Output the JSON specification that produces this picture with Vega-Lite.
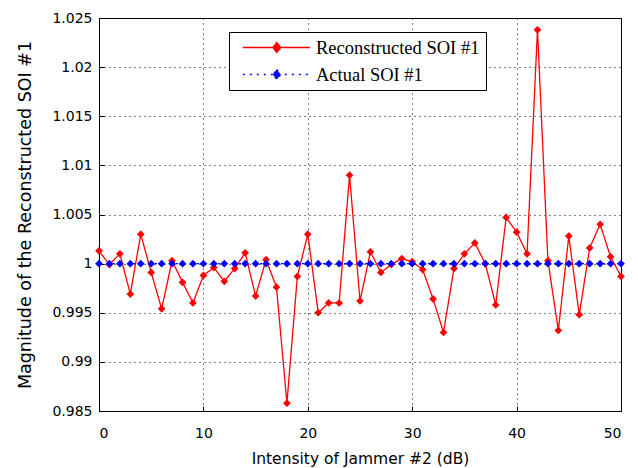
{
  "$schema": "https://vega.github.io/schema/vega-lite/v6.json",
  "width": 522,
  "height": 393,
  "autosize": {"type": "none"},
  "padding": {"left": 99, "top": 18, "right": 17, "bottom": 57},
  "background": "white",
  "config": {
    "view": {"stroke": "black", "strokeWidth": 1},
    "axis": {
      "labelFont": "DejaVu Sans",
      "labelFontSize": 14,
      "labelColor": "black",
      "titleFont": "DejaVu Sans",
      "titleFontSize": 16,
      "titleFontWeight": "normal",
      "titleColor": "black",
      "domainColor": "black",
      "tickColor": "black",
      "gridColor": "black",
      "gridDash": [1, 4],
      "gridOpacity": 1,
      "gridWidth": 1
    }
  },
  "data": {
    "values": [
      {"x": 0, "y": 1.0013, "s": "Reconstructed SOI #1"},
      {"x": 1, "y": 0.9999, "s": "Reconstructed SOI #1"},
      {"x": 2, "y": 1.001, "s": "Reconstructed SOI #1"},
      {"x": 3, "y": 0.9969, "s": "Reconstructed SOI #1"},
      {"x": 4, "y": 1.003, "s": "Reconstructed SOI #1"},
      {"x": 5, "y": 0.9991, "s": "Reconstructed SOI #1"},
      {"x": 6, "y": 0.9954, "s": "Reconstructed SOI #1"},
      {"x": 7, "y": 1.0003, "s": "Reconstructed SOI #1"},
      {"x": 8, "y": 0.9981, "s": "Reconstructed SOI #1"},
      {"x": 9, "y": 0.996, "s": "Reconstructed SOI #1"},
      {"x": 10, "y": 0.9988, "s": "Reconstructed SOI #1"},
      {"x": 11, "y": 0.9996, "s": "Reconstructed SOI #1"},
      {"x": 12, "y": 0.9982, "s": "Reconstructed SOI #1"},
      {"x": 13, "y": 0.9995, "s": "Reconstructed SOI #1"},
      {"x": 14, "y": 1.0011, "s": "Reconstructed SOI #1"},
      {"x": 15, "y": 0.9967, "s": "Reconstructed SOI #1"},
      {"x": 16, "y": 1.0004, "s": "Reconstructed SOI #1"},
      {"x": 17, "y": 0.9976, "s": "Reconstructed SOI #1"},
      {"x": 18, "y": 0.9858, "s": "Reconstructed SOI #1"},
      {"x": 19, "y": 0.9987, "s": "Reconstructed SOI #1"},
      {"x": 20, "y": 1.003, "s": "Reconstructed SOI #1"},
      {"x": 21, "y": 0.995, "s": "Reconstructed SOI #1"},
      {"x": 22, "y": 0.996, "s": "Reconstructed SOI #1"},
      {"x": 23, "y": 0.996, "s": "Reconstructed SOI #1"},
      {"x": 24, "y": 1.009, "s": "Reconstructed SOI #1"},
      {"x": 25, "y": 0.9962, "s": "Reconstructed SOI #1"},
      {"x": 26, "y": 1.0012, "s": "Reconstructed SOI #1"},
      {"x": 27, "y": 0.9991, "s": "Reconstructed SOI #1"},
      {"x": 28, "y": 0.9999, "s": "Reconstructed SOI #1"},
      {"x": 29, "y": 1.0005, "s": "Reconstructed SOI #1"},
      {"x": 30, "y": 1.0002, "s": "Reconstructed SOI #1"},
      {"x": 31, "y": 0.9994, "s": "Reconstructed SOI #1"},
      {"x": 32, "y": 0.9964, "s": "Reconstructed SOI #1"},
      {"x": 33, "y": 0.993, "s": "Reconstructed SOI #1"},
      {"x": 34, "y": 0.9995, "s": "Reconstructed SOI #1"},
      {"x": 35, "y": 1.001, "s": "Reconstructed SOI #1"},
      {"x": 36, "y": 1.0021, "s": "Reconstructed SOI #1"},
      {"x": 37, "y": 1.0, "s": "Reconstructed SOI #1"},
      {"x": 38, "y": 0.9958, "s": "Reconstructed SOI #1"},
      {"x": 39, "y": 1.0047, "s": "Reconstructed SOI #1"},
      {"x": 40, "y": 1.0032, "s": "Reconstructed SOI #1"},
      {"x": 41, "y": 1.001, "s": "Reconstructed SOI #1"},
      {"x": 42, "y": 1.0238, "s": "Reconstructed SOI #1"},
      {"x": 43, "y": 1.0003, "s": "Reconstructed SOI #1"},
      {"x": 44, "y": 0.9932, "s": "Reconstructed SOI #1"},
      {"x": 45, "y": 1.0028, "s": "Reconstructed SOI #1"},
      {"x": 46, "y": 0.9948, "s": "Reconstructed SOI #1"},
      {"x": 47, "y": 1.0016, "s": "Reconstructed SOI #1"},
      {"x": 48, "y": 1.004, "s": "Reconstructed SOI #1"},
      {"x": 49, "y": 1.0007, "s": "Reconstructed SOI #1"},
      {"x": 50, "y": 0.9987, "s": "Reconstructed SOI #1"},
      {"x": 0, "y": 1, "s": "Actual SOI #1"},
      {"x": 1, "y": 1, "s": "Actual SOI #1"},
      {"x": 2, "y": 1, "s": "Actual SOI #1"},
      {"x": 3, "y": 1, "s": "Actual SOI #1"},
      {"x": 4, "y": 1, "s": "Actual SOI #1"},
      {"x": 5, "y": 1, "s": "Actual SOI #1"},
      {"x": 6, "y": 1, "s": "Actual SOI #1"},
      {"x": 7, "y": 1, "s": "Actual SOI #1"},
      {"x": 8, "y": 1, "s": "Actual SOI #1"},
      {"x": 9, "y": 1, "s": "Actual SOI #1"},
      {"x": 10, "y": 1, "s": "Actual SOI #1"},
      {"x": 11, "y": 1, "s": "Actual SOI #1"},
      {"x": 12, "y": 1, "s": "Actual SOI #1"},
      {"x": 13, "y": 1, "s": "Actual SOI #1"},
      {"x": 14, "y": 1, "s": "Actual SOI #1"},
      {"x": 15, "y": 1, "s": "Actual SOI #1"},
      {"x": 16, "y": 1, "s": "Actual SOI #1"},
      {"x": 17, "y": 1, "s": "Actual SOI #1"},
      {"x": 18, "y": 1, "s": "Actual SOI #1"},
      {"x": 19, "y": 1, "s": "Actual SOI #1"},
      {"x": 20, "y": 1, "s": "Actual SOI #1"},
      {"x": 21, "y": 1, "s": "Actual SOI #1"},
      {"x": 22, "y": 1, "s": "Actual SOI #1"},
      {"x": 23, "y": 1, "s": "Actual SOI #1"},
      {"x": 24, "y": 1, "s": "Actual SOI #1"},
      {"x": 25, "y": 1, "s": "Actual SOI #1"},
      {"x": 26, "y": 1, "s": "Actual SOI #1"},
      {"x": 27, "y": 1, "s": "Actual SOI #1"},
      {"x": 28, "y": 1, "s": "Actual SOI #1"},
      {"x": 29, "y": 1, "s": "Actual SOI #1"},
      {"x": 30, "y": 1, "s": "Actual SOI #1"},
      {"x": 31, "y": 1, "s": "Actual SOI #1"},
      {"x": 32, "y": 1, "s": "Actual SOI #1"},
      {"x": 33, "y": 1, "s": "Actual SOI #1"},
      {"x": 34, "y": 1, "s": "Actual SOI #1"},
      {"x": 35, "y": 1, "s": "Actual SOI #1"},
      {"x": 36, "y": 1, "s": "Actual SOI #1"},
      {"x": 37, "y": 1, "s": "Actual SOI #1"},
      {"x": 38, "y": 1, "s": "Actual SOI #1"},
      {"x": 39, "y": 1, "s": "Actual SOI #1"},
      {"x": 40, "y": 1, "s": "Actual SOI #1"},
      {"x": 41, "y": 1, "s": "Actual SOI #1"},
      {"x": 42, "y": 1, "s": "Actual SOI #1"},
      {"x": 43, "y": 1, "s": "Actual SOI #1"},
      {"x": 44, "y": 1, "s": "Actual SOI #1"},
      {"x": 45, "y": 1, "s": "Actual SOI #1"},
      {"x": 46, "y": 1, "s": "Actual SOI #1"},
      {"x": 47, "y": 1, "s": "Actual SOI #1"},
      {"x": 48, "y": 1, "s": "Actual SOI #1"},
      {"x": 49, "y": 1, "s": "Actual SOI #1"},
      {"x": 50, "y": 1, "s": "Actual SOI #1"}
    ]
  },
  "mark": {
    "type": "line",
    "strokeWidth": 1.3,
    "point": {"shape": "diamond", "filled": true, "size": 60, "opacity": 1}
  },
  "encoding": {
    "x": {
      "field": "x",
      "type": "quantitative",
      "scale": {"domain": [0, 50], "nice": false},
      "axis": {
        "values": [0, 10, 20, 30, 40, 50],
        "title": "Intensity of Jammer #2 (dB)",
        "titleFontSize": 15.5,
        "tickSize": -5,
        "labelPadding": 20,
        "titlePadding": 11
      }
    },
    "y": {
      "field": "y",
      "type": "quantitative",
      "scale": {"domain": [0.985, 1.025], "nice": false, "zero": false},
      "axis": {
        "values": [0.985, 0.99, 0.995, 1, 1.005, 1.01, 1.015, 1.02, 1.025],
        "format": ".4~f",
        "title": "Magnitude of the Reconstructed SOI #1",
        "titleFontSize": 17.5,
        "tickSize": -5,
        "labelPadding": 12,
        "titlePadding": 17
      }
    },
    "color": {
      "field": "s",
      "type": "nominal",
      "sort": ["Reconstructed SOI #1", "Actual SOI #1"],
      "scale": {"domain": ["Reconstructed SOI #1", "Actual SOI #1"], "range": ["#ff0000", "#0000ff"]},
      "legend": {
        "title": null,
        "orient": "none",
        "legendX": 130,
        "legendY": 14,
        "fillColor": "white",
        "strokeColor": "black",
        "padding": 6,
        "labelFont": "Liberation Serif",
        "labelFontSize": 18.5,
        "labelColor": "black",
        "labelLimit": 400,
        "symbolType": "M-0.2,0H7.7M3.8,-0.59L4.27,0L3.8,0.59L3.33,0Z",
        "symbolSize": 289,
        "symbolStrokeWidth": 1.3,
        "rowPadding": 8,
        "labelOffset": 62,
        "encode": {"symbols": {"update": {"fill": {"scale": "color", "field": "value"}}}}
      }
    },
    "strokeDash": {
      "field": "s",
      "type": "nominal",
      "sort": ["Reconstructed SOI #1", "Actual SOI #1"],
      "scale": {"domain": ["Reconstructed SOI #1", "Actual SOI #1"], "range": [[1, 0], [2, 5]]},
      "legend": null
    }
  }
}
